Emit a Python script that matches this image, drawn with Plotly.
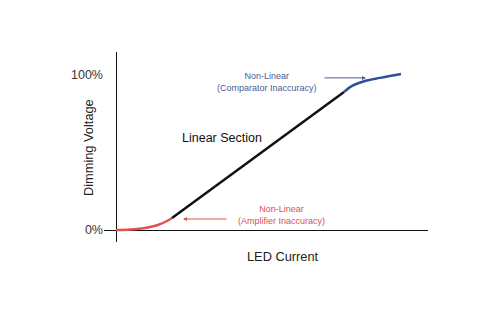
import plotly.graph_objects as go

# Data (LED current in arbitrary units, dimming voltage in %)
red_x = [0, 1.4, 2.9, 4.2, 5.1, 5.6]
red_y = [0, 0.3, 1.3, 3.2, 5.8, 7.7]
black_x = [5.6, 22.8]
black_y = [7.7, 89.0]
blue_x = [22.8, 23.6, 24.9, 26.4, 28.5]
blue_y = [89.0, 92.9, 96.1, 98.1, 100.6]
ytick_vals = [0, 100]
ytick_text = ["0%", "100%"]

FONT = "Liberation Sans, Arial, sans-serif"

fig = go.Figure()
fig.add_trace(go.Scatter(x=red_x, y=red_y, mode="lines",
                         line=dict(color="#e0524f", width=2.5, shape="spline"), hoverinfo="skip"))
fig.add_trace(go.Scatter(x=black_x, y=black_y, mode="lines",
                         line=dict(color="#111111", width=2.5), hoverinfo="skip"))
fig.add_trace(go.Scatter(x=blue_x, y=blue_y, mode="lines",
                         line=dict(color="#2e4f9c", width=2.5, shape="spline"), hoverinfo="skip"))

fig.update_layout(
    width=478, height=322,
    margin=dict(l=104, r=50, t=52, b=80),
    paper_bgcolor="white", plot_bgcolor="white",
    showlegend=False,
    font=dict(family=FONT, color="#333333", size=12),
    xaxis=dict(range=[-1.2, 31.2], showgrid=False, showticklabels=False, ticks="",
               zeroline=True, zerolinecolor="#111111", zerolinewidth=1.3, fixedrange=True),
    yaxis=dict(range=[-7.74, 114.8], showgrid=False, tickvals=ytick_vals, ticktext=ytick_text,
               ticks="", zeroline=True, zerolinecolor="#111111", zerolinewidth=1.3,
               tickfont=dict(size=12.5, color="#333333"), fixedrange=True),
    annotations=[
        dict(text="Dimming Voltage", textangle=-90, x=(88 - 104) / 324, y=(242 - 148) / 190,
             xref="paper", yref="paper", xanchor="center", yanchor="middle",
             showarrow=False, font=dict(size=12.8, color="#222222")),
        dict(text="LED Current", x=(283 - 104) / 324, y=(242 - 256) / 190,
             xref="paper", yref="paper", xanchor="center", yanchor="middle",
             showarrow=False, font=dict(size=12.8, color="#222222")),
        dict(text="Linear Section", x=10.6, y=59.4, xref="x", yref="y",
             showarrow=False, font=dict(size=12.5, color="#111111")),
        dict(text="Non-Linear<br>(Comparator Inaccuracy)", x=15.1, y=95.2, xref="x", yref="y",
             showarrow=False, font=dict(size=9, color="#4a5c96")),
        dict(text="Non-Linear<br>(Amplifier Inaccuracy)", x=16.5, y=9.4, xref="x", yref="y",
             showarrow=False, font=dict(size=9, color="#d9534f")),
        dict(text="", x=25.0, y=98.1, xref="x", yref="y", ax=-43, ay=0,
             showarrow=True, arrowhead=2, arrowsize=0.8, arrowwidth=1, arrowcolor="#4a5c96"),
        dict(text="", x=6.7, y=7.1, xref="x", yref="y", ax=45, ay=0,
             showarrow=True, arrowhead=2, arrowsize=0.8, arrowwidth=1, arrowcolor="#d9534f"),
    ],
)

fig.write_html("out.html")
